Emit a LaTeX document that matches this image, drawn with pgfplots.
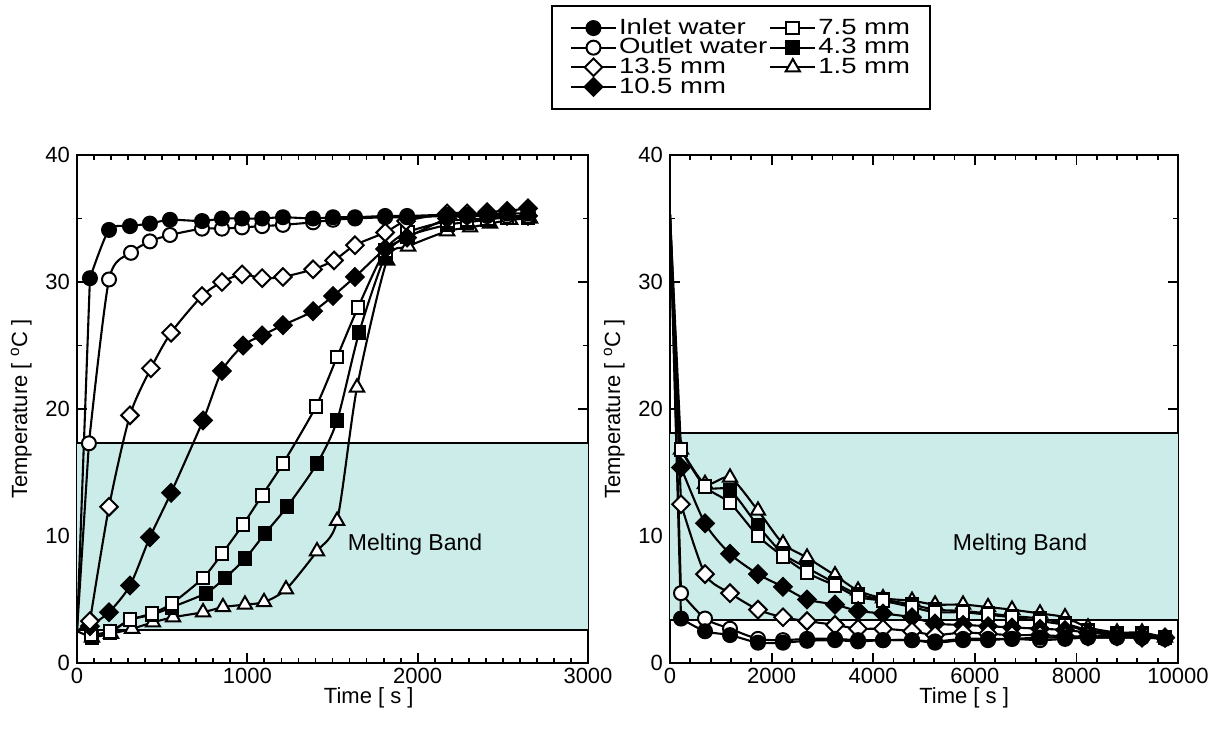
\documentclass[border=0pt]{standalone}
\usepackage{fontspec}
\setmainfont{Liberation Sans}
\newfontfamily\legfont[FakeStretch=1.25]{Liberation Sans}
\usepackage{pgfplots}
\pgfplotsset{compat=1.18}
\definecolor{bandcyan}{RGB}{203,236,232}

\pgfplotsset{
  panel/.style={
    scale only axis, height=254pt,
    ymin=0, ymax=40, ytick={0,10,20,30,40}, minor y tick num=1,
    axis line style={line width=1.4pt},
    major tick length=5pt, minor tick length=2.5pt,
    every tick/.style={black, line width=0.9pt},
    tick label style={font=\fontsize{11}{13}\selectfont},
    xticklabel style={yshift=1.2pt},
    /pgf/number format/assume math mode=true,
    /pgf/number format/set thousands separator={},
    scaled x ticks=false,
    label style={font=\fontsize{11}{13}\selectfont},
    ylabel={Temperature [ \textsuperscript{o}C ]},
    xlabel={Time [ s ]},
  },
  curve/.style={black, line width=1.05pt, smooth, tension=0.45},
  spike/.style={black, line width=1.05pt, no marks, forget plot},
  s_in/.style={mark=*, mark size=3.5pt, mark options={solid, line width=1pt, fill=black}},
  s_out/.style={mark=*, mark size=3.5pt, mark options={solid, line width=1pt, fill=white}},
  s_a/.style={mark=square*, mark size=3.1pt, mark options={solid, line width=1pt, fill=white, rotate=45}},
  s_b/.style={mark=square*, mark size=3.1pt, mark options={solid, line width=1pt, fill=black, rotate=45}},
  s_c/.style={mark=square*, mark size=3.2pt, mark options={solid, line width=1pt, fill=white}},
  s_d/.style={mark=square*, mark size=3.2pt, mark options={solid, line width=1pt, fill=black}},
  s_e/.style={mark=triangle*, mark size=4.1pt, mark options={solid, line width=1pt, fill=white}},
}

\begin{document}
\begin{tikzpicture}
\useasboundingbox (-38.5pt,-33.5pt) rectangle (574pt,331.5pt);

% heating
\begin{axis}[panel, at={(0pt,0pt)}, anchor=south west, width=255.5pt,
  xmin=0, xmax=3000, xtick={0,1000,2000,3000}, minor x tick num=9,
  xlabel style={at={(axis description cs:0.571,0)}, anchor=north, yshift=-8.6pt},
  legend image code/.code={\draw[mark repeat=2, mark phase=2, #1] plot coordinates {(0pt,0pt) (11.25pt,0pt) (22.5pt,0pt)};},
  legend columns=2,
  legend cell align=left,
  legend style={at={(axis description cs:1.2994,1.192)}, anchor=center, draw=black, line width=1pt,
    font=\legfont\fontsize{11}{12}\selectfont, inner xsep=9pt, inner ysep=6pt,
    column sep=0pt, row sep=0pt,
    nodes={inner xsep=1pt, inner ysep=0.2pt, text height=7.8pt, text depth=1.6pt}},
]
\addlegendimage{black, line width=1.05pt, s_in}  \addlegendentry{Inlet water}
\addlegendimage{black, line width=1.05pt, s_c}   \addlegendentry{7.5 mm}
\addlegendimage{black, line width=1.05pt, s_out} \addlegendentry{Outlet water}
\addlegendimage{black, line width=1.05pt, s_d}   \addlegendentry{4.3 mm}
\addlegendimage{black, line width=1.05pt, s_a}   \addlegendentry{13.5 mm}
\addlegendimage{black, line width=1.05pt, s_e}   \addlegendentry{1.5 mm}
\addlegendimage{black, line width=1.05pt, s_b}   \addlegendentry{10.5 mm}

\addplot[fill=bandcyan, draw=none, forget plot] coordinates {(0,2.6) (3000,2.6) (3000,17.35) (0,17.35)};
\addplot[black, line width=1pt, forget plot] coordinates {(0,2.6) (3000,2.6)};
\addplot[black, line width=1pt, forget plot] coordinates {(0,17.35) (3000,17.35)};
\node[font=\fontsize{11.5}{13}\selectfont] at (axis cs:1985,9.3) {Melting Band};

% first readings at t = 0 drawn as plain line segments
\addplot[spike] coordinates {(0,2.5) (88,2.0)};
\addplot[spike] coordinates {(0,2.5) (76,2.9)};
\addplot[spike] coordinates {(0,2.5) (76,3.3)};
\addplot[spike] coordinates {(0,2.5) (70,17.3)};
\addplot[spike] coordinates {(0,2.5) (76,30.3)};

\addplot[curve, s_e, forget plot] coordinates {(88,2.0) (200,2.3) (323,2.7) (446,3.2) (564,3.6) (740,4.0) (857,4.4) (986,4.6) (1098,4.8) (1227,5.8) (1409,8.8) (1527,11.2) (1644,21.7) (1820,31.7) (1944,32.8) (2173,34.0) (2308,34.3) (2425,34.6) (2543,34.9) (2660,35.0)};
\addplot[curve, s_d, forget plot] coordinates {(88,2.0) (194,2.4) (311,3.4) (440,3.8) (558,4.4) (757,5.5) (869,6.7) (986,8.2) (1104,10.2) (1233,12.3) (1409,15.7) (1527,19.1) (1656,26.0) (1809,32.0) (1938,33.6) (2173,34.5) (2290,34.7) (2408,34.9) (2525,35.1) (2648,35.1)};
\addplot[curve, s_c, forget plot] coordinates {(82,2.2) (194,2.5) (311,3.4) (440,3.9) (558,4.7) (740,6.7) (851,8.6) (975,10.9) (1087,13.2) (1209,15.7) (1403,20.2) (1527,24.1) (1650,28.0) (1809,32.5) (1938,33.9) (2173,34.8) (2290,34.9) (2408,35.0) (2525,35.1) (2648,35.2)};
\addplot[curve, s_b, forget plot] coordinates {(76,2.9) (188,4.0) (311,6.1) (428,9.9) (552,13.4) (740,19.1) (851,23.0) (975,25.0) (1087,25.8) (1209,26.6) (1386,27.7) (1503,28.9) (1632,30.4) (1809,32.6) (1938,33.5) (2173,35.0) (2290,35.2) (2408,35.5) (2525,35.6) (2648,35.8)};
\addplot[curve, s_a, forget plot] coordinates {(76,3.3) (188,12.3) (311,19.5) (434,23.2) (552,26.0) (734,28.9) (851,30.0) (969,30.6) (1087,30.3) (1209,30.4) (1386,31.0) (1509,31.7) (1632,32.9) (1809,33.9) (1932,34.8) (2173,35.4) (2290,35.4) (2408,35.3) (2525,35.2) (2648,35.2)};
\addplot[curve, s_out, forget plot] coordinates {(70,17.3) (188,30.2) (317,32.3) (428,33.2) (546,33.7) (734,34.2) (851,34.2) (969,34.3) (1087,34.4) (1209,34.5) (1386,34.7) (1503,34.9) (1632,35.0) (1809,35.1) (1938,35.1) (2173,35.2) (2290,35.2) (2408,35.2) (2525,35.2) (2648,35.2)};
\addplot[curve, s_in, forget plot] coordinates {(76,30.3) (188,34.1) (311,34.4) (428,34.6) (546,34.9) (734,34.8) (851,35.0) (969,35.0) (1087,35.0) (1209,35.1) (1386,35.0) (1503,35.1) (1632,35.1) (1809,35.2) (1938,35.2) (2173,35.3) (2290,35.3) (2408,35.3) (2525,35.4) (2648,35.4)};
\end{axis}

% cooling
\begin{axis}[panel, at={(296.5pt,0pt)}, anchor=south west, width=254pt,
  xmin=0, xmax=10000, xtick={0,2000,4000,6000,8000,10000}, minor x tick num=4,
  xlabel style={at={(axis description cs:0.579,0)}, anchor=north, yshift=-8.6pt},
]
\addplot[fill=bandcyan, draw=none] coordinates {(0,3.4) (10000,3.4) (10000,18.1) (0,18.1)};
\addplot[black, line width=1pt] coordinates {(0,3.4) (10000,3.4)};
\addplot[black, line width=1pt] coordinates {(0,18.1) (10000,18.1)};
\node[font=\fontsize{11.5}{13}\selectfont] at (axis cs:6890,9.3) {Melting Band};

% first readings at t = 0 drawn as plain line segments
\addplot[spike] coordinates {(0,35.3) (217,16.8)};
\addplot[spike] coordinates {(0,35.3) (217,15.4)};
\addplot[spike] coordinates {(0,35.3) (217,12.5)};
\addplot[spike] coordinates {(0,35.3) (217,5.5)};
\addplot[spike] coordinates {(0,35.3) (217,3.5)};

\addplot[curve, s_e] coordinates {(217,16.8) (689,14.1) (1181,14.6) (1732,12.0) (2224,9.4) (2697,8.3) (3248,6.9) (3701,5.7) (4193,5.1) (4764,4.9) (5217,4.6) (5768,4.6) (6260,4.4) (6732,4.2) (7283,3.9) (7776,3.6) (8228,2.8) (8799,2.4) (9291,2.4) (9744,2.0)};
\addplot[curve, s_d] coordinates {(217,16.8) (689,13.9) (1181,13.6) (1732,10.8) (2224,8.6) (2697,7.5) (3248,6.3) (3701,5.4) (4193,5.0) (4764,4.6) (5217,4.2) (5768,4.1) (6260,3.9) (6732,3.7) (7283,3.5) (7776,3.1) (8228,2.6) (8799,2.3) (9291,2.3) (9744,2.0)};
\addplot[curve, s_c] coordinates {(217,16.8) (689,13.9) (1181,12.6) (1732,10.0) (2224,8.4) (2697,7.1) (3248,6.1) (3701,5.2) (4193,4.9) (4764,4.4) (5217,4.0) (5768,4.0) (6260,3.8) (6732,3.6) (7283,3.3) (7776,3.0) (8228,2.5) (8799,2.2) (9291,2.2) (9744,2.0)};
\addplot[curve, s_b] coordinates {(217,15.4) (689,11.0) (1181,8.6) (1732,7.0) (2224,6.0) (2697,5.0) (3248,4.6) (3701,4.1) (4193,3.9) (4764,3.6) (5217,3.1) (5768,3.0) (6260,2.9) (6732,2.8) (7283,2.7) (7776,2.6) (8228,2.4) (8799,2.2) (9291,2.1) (9744,2.0)};
\addplot[curve, s_a] coordinates {(217,12.5) (689,7.0) (1181,5.5) (1732,4.2) (2224,3.6) (2697,3.3) (3248,3.0) (3701,2.7) (4193,2.7) (4764,2.5) (5217,2.2) (5768,2.4) (6260,2.3) (6732,2.2) (7283,2.2) (7776,2.1) (8228,2.1) (8799,2.1) (9291,2.0) (9744,2.0)};
\addplot[curve, s_out] coordinates {(217,5.5) (689,3.5) (1181,2.7) (1732,1.9) (2224,1.8) (2697,1.9) (3248,1.9) (3701,1.8) (4193,1.8) (4764,1.8) (5217,1.6) (5768,1.8) (6260,1.8) (6732,1.9) (7283,1.8) (7776,1.9) (8228,2.0) (8799,2.0) (9291,2.0) (9744,2.0)};
\addplot[curve, s_in] coordinates {(217,3.5) (689,2.5) (1181,2.2) (1732,1.6) (2224,1.6) (2697,1.75) (3248,1.8) (3701,1.7) (4193,1.8) (4764,1.8) (5217,1.7) (5768,1.9) (6260,1.9) (6732,1.9) (7283,2.0) (7776,2.0) (8228,2.0) (8799,2.0) (9291,2.0) (9744,1.9)};
\end{axis}
\end{tikzpicture}
\end{document}
